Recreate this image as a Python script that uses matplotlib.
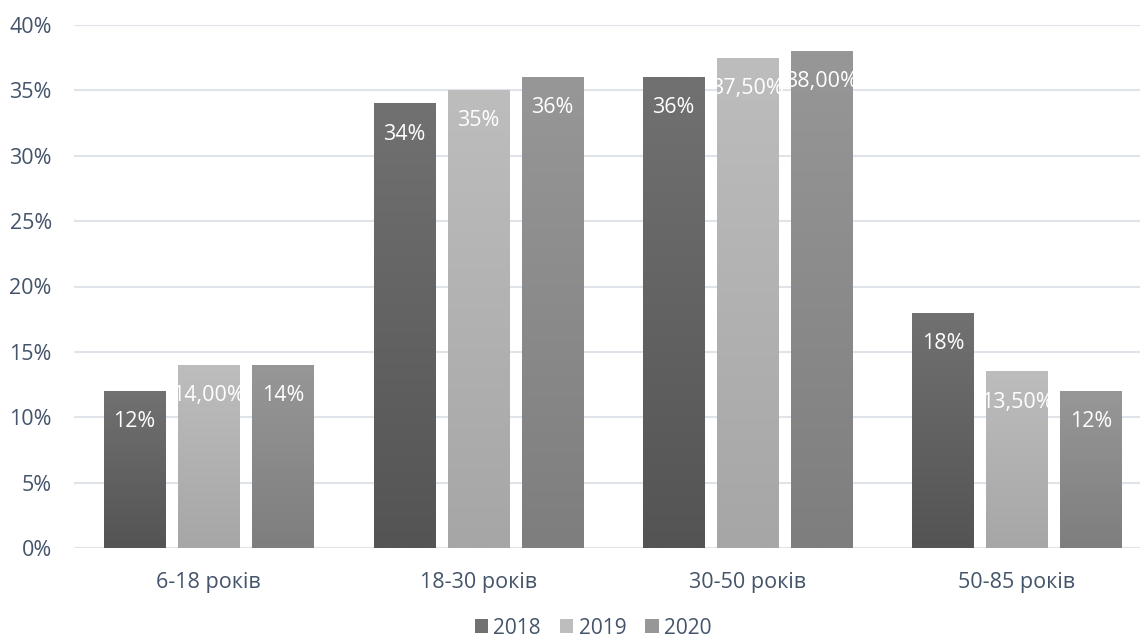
import numpy as np
import matplotlib
matplotlib.use("Agg")
import matplotlib.pyplot as plt
from matplotlib.colors import LinearSegmentedColormap
from matplotlib.patches import Patch

# ── data ──
categories = ["6-18 років", "18-30 років", "30-50 років", "50-85 років"]
years = ["2018", "2019", "2020"]
values_2018 = [12, 34, 36, 18]
values_2019 = [14, 35, 37.5, 13.5]
values_2020 = [14, 36, 38, 12]
labels_2018 = ["12%", "34%", "36%", "18%"]
labels_2019 = ["14,00%", "35%", "37,50%", "13,50%"]
labels_2020 = ["14%", "36%", "38,00%", "12%"]

# gradient (top, bottom) per series
grad = {
    "2018": ("#717171", "#545454"),
    "2019": ("#bdbdbd", "#a6a6a6"),
    "2020": ("#979797", "#7e7e7e"),
}

text_col = "#44546A"
fs = 15.5
plt.rcParams["font.family"] = ["Open Sans", "DejaVu Sans"]

fig = plt.figure(figsize=(11.42, 6.41), dpi=100)
ax = fig.add_axes([74 / 1142, 1 - 548 / 641, 1066 / 1142, 523 / 641])

x = np.arange(len(categories))
width = 0.2265
offset = 0.275

series = [values_2018, values_2019, values_2020]
series_labels = [labels_2018, labels_2019, labels_2020]

for i, (yr, vals, labs) in enumerate(zip(years, series, series_labels)):
    bars = ax.bar(x + (i - 1) * offset, vals, width, color="none", zorder=2)
    top, bot = grad[yr]
    cmap = LinearSegmentedColormap.from_list(yr, [bot, top])
    g = np.linspace(0, 1, 256).reshape(-1, 1)
    for b, lab in zip(bars, labs):
        x0, y0 = b.get_x(), b.get_y()
        w, h = b.get_width(), b.get_height()
        im = ax.imshow(g, cmap=cmap, origin="lower", aspect="auto",
                       extent=[x0, x0 + w, y0, y0 + h], zorder=2)
        im.set_clip_path(b)
        ax.annotate(lab, (x0 + w / 2, y0 + h), xytext=(0, -22),
                    textcoords="offset points", ha="center", va="center",
                    color="white", fontsize=fs, zorder=3)

ax.set_xlim(-0.5, 3.457)
ax.set_ylim(0, 40)
ax.set_yticks(np.arange(0, 41, 5))
ax.set_yticklabels([f"{v}%" for v in range(0, 41, 5)])
ax.set_xticks(x)
ax.set_xticklabels(categories)
ax.tick_params(length=0, labelsize=fs, colors=text_col)
ax.tick_params(axis="x", pad=17)
ax.tick_params(axis="y", pad=16)
ax.grid(axis="y", color="#dfe4ea", linewidth=1.5, zorder=0)
ax.set_axisbelow(True)
for s in ax.spines.values():
    s.set_visible(False)

handles = [Patch(facecolor=grad[y][0], edgecolor="none", label=y) for y in years]
fig.legend(handles=handles, loc="center", bbox_to_anchor=(593 / 1142, 1 - 628 / 641),
           ncol=3, frameon=False, fontsize=15, labelcolor=text_col,
           handlelength=0.65, handleheight=0.65, handletextpad=0.25, columnspacing=0.9,
           borderpad=0.0)

fig.savefig("out.png", dpi=100)
